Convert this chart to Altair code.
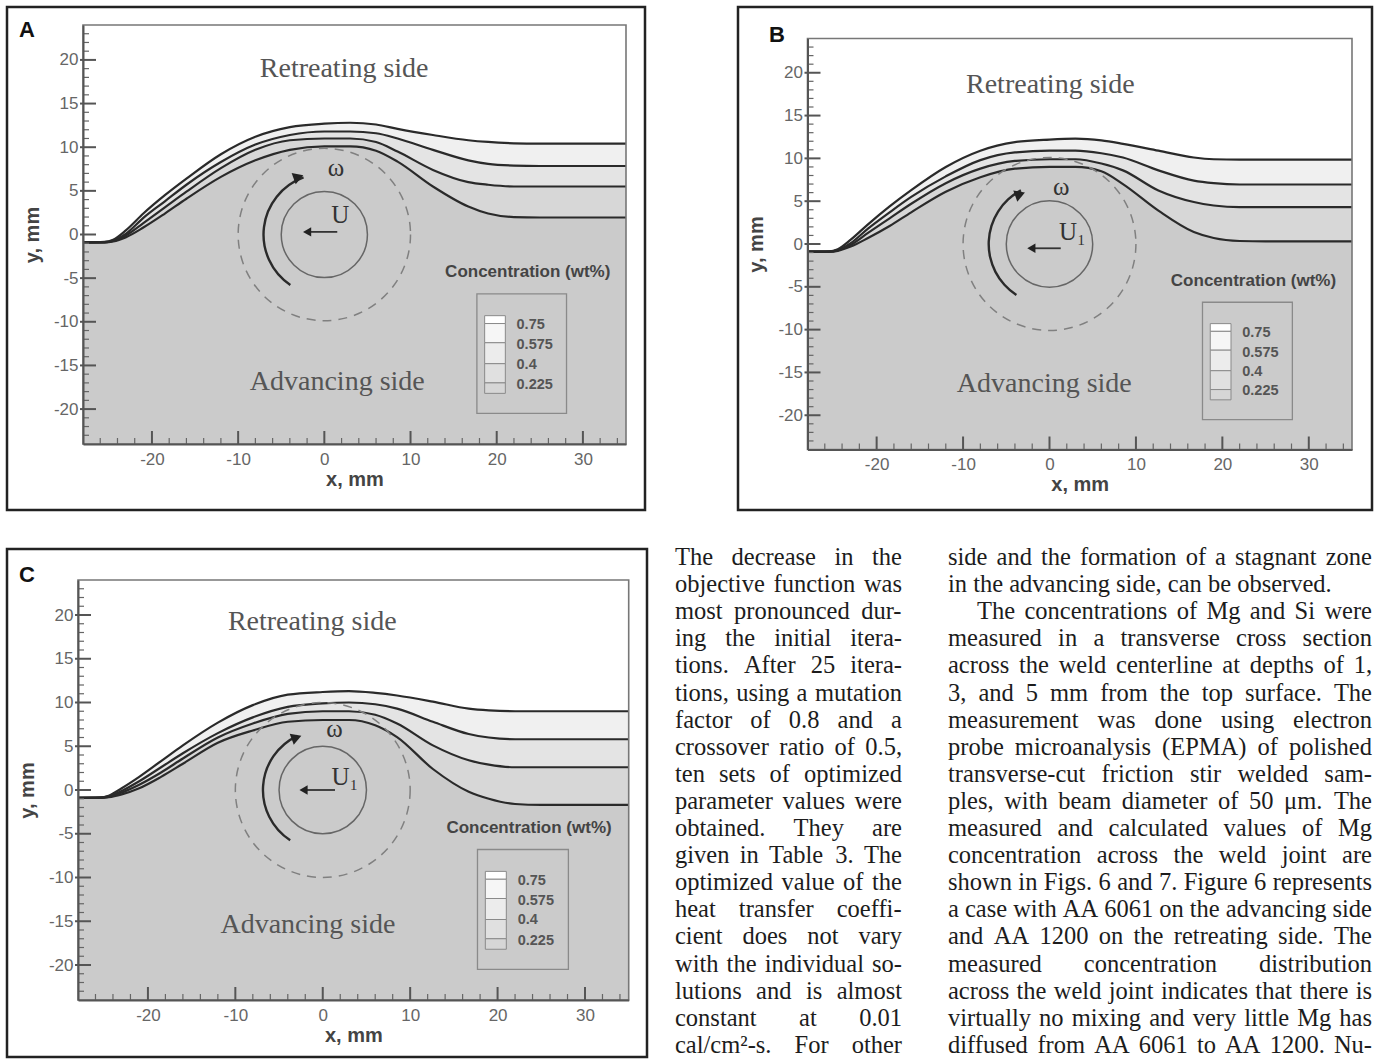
import altair as alt
import pandas as pd

# ---------------- data ----------------
X = [-28, -25.5, -24.5, -23, -21, -18.5, -16, -12, -8, -4, 0, 3, 6, 8.5, 12.6, 16.7, 19, 22, 25, 35]

A_L1 = [-0.9, -0.9, -0.8, -0.3, 0.8, 2.4, 4.1, 6.6, 8.5, 9.7, 10.1, 10.1, 9.6, 8.35, 5.5, 3.2, 2.4, 2.0, 1.95, 1.95]
A_L2 = [-0.9, -0.9, -0.75, -0.1, 1.3, 3.1, 4.9, 7.6, 9.7, 10.8, 11.0, 11.0, 10.6, 9.5, 7.4, 6.0, 5.7, 5.5, 5.5, 5.5]
A_L3 = [-0.9, -0.88, -0.7, 0.1, 1.9, 3.8, 5.7, 8.3, 10.3, 11.4, 11.8, 11.8, 11.6, 11.0, 9.7, 8.5, 8.1, 7.9, 7.85, 7.85]
A_L4 = [-0.9, -0.85, -0.6, 0.5, 2.4, 4.5, 6.4, 9.2, 11.2, 12.3, 12.7, 12.8, 12.6, 12.1, 11.4, 10.8, 10.6, 10.45, 10.4, 10.4]

B_L1 = [-0.9, -0.9, -0.8, -0.3, 0.7, 2.1, 3.7, 6.1, 7.8, 8.8, 9.0, 9.0, 8.5, 7.0, 3.9, 1.4, 0.7, 0.35, 0.3, 0.3]
B_L2 = [-0.9, -0.9, -0.75, -0.1, 1.3, 3.0, 4.7, 7.1, 8.8, 9.7, 9.9, 9.9, 9.4, 8.6, 6.25, 4.9, 4.5, 4.3, 4.3, 4.3]
B_L3 = [-0.9, -0.88, -0.7, 0.1, 1.8, 3.7, 5.5, 7.9, 9.8, 10.7, 10.9, 10.9, 10.6, 10.1, 8.6, 7.4, 7.1, 6.95, 6.95, 6.95]
B_L4 = [-0.9, -0.85, -0.6, 0.5, 2.3, 4.4, 6.3, 9.0, 10.9, 11.9, 12.2, 12.3, 12.1, 11.7, 10.9, 10.1, 9.9, 9.85, 9.85, 9.85]

C_L1 = [-0.9, -0.9, -0.83, -0.5, 0.2, 1.5, 3.0, 5.4, 6.8, 7.8, 8.0, 8.0, 7.4, 6.05, 2.4, -0.2, -1.0, -1.6, -1.7, -1.7]
C_L2 = [-0.9, -0.9, -0.78, -0.3, 0.6, 2.0, 3.6, 6.0, 7.6, 8.7, 9.0, 9.0, 8.6, 7.6, 5.1, 3.4, 2.9, 2.6, 2.6, 2.6]
C_L3 = [-0.9, -0.88, -0.72, -0.1, 1.0, 2.6, 4.2, 6.5, 8.3, 9.5, 9.9, 10.0, 9.8, 9.3, 7.8, 6.4, 6.0, 5.8, 5.8, 5.8]
C_L4 = [-0.9, -0.85, -0.65, 0.2, 1.5, 3.3, 5.1, 7.7, 9.7, 10.9, 11.2, 11.3, 11.1, 10.8, 10.1, 9.3, 9.1, 9.0, 9.0, 9.0]

X_DOMAIN = [-28, 35]
Y_DOMAIN = [-24, 24]
X_LABELS = [-20, -10, 0, 10, 20, 30]
Y_LABELS = [-20, -15, -10, -5, 0, 5, 10, 15, 20]
X_MINOR = [v for v in range(-26, 35, 2) if v % 10 != 0]
Y_MINOR = [v for v in range(-23, 24) if v % 5 != 0]

LEGEND_LABELS = ["0.75", "0.575", "0.4", "0.225"]
LEGEND_LABEL_Y = [-10.4, -12.7, -14.9, -17.2]
SWATCH_TOP = [-9.3, -10.2, -12.4, -14.8, -17.0]
SWATCH_BOT = [-10.2, -12.4, -14.8, -17.0, -18.2]
SWATCH_FILL = ["#ffffff", "#f6f6f6", "#ececec", "#e0e0e0", "#d6d6d6"]
SWATCH_X = [18.6, 21.0]
LEG_BOX = [17.7, 28.1, -6.8, -20.5]
LEG_LABEL_X = 22.3
CONC_TITLE = (23.6, -4.3)

PIN_R = 5
SHOULDER_R = 10

COL1 = ["The decrease in the", "objective function was", "most pronounced dur-",
        "ing the initial itera-", "tions. After 25 itera-", "tions, using a mutation",
        "factor of 0.8 and a", "crossover ratio of 0.5,", "ten sets of optimized",
        "parameter values were", "obtained. They are", "given in Table 3. The",
        "optimized value of the", "heat transfer coeffi-", "cient does not vary",
        "with the individual so-", "lutions and is almost", "constant at 0.01",
        "cal/cm²-s. For other"]
COL2 = ["side and the formation of a stagnant zone", "in the advancing side, can be observed.",
        "The concentrations of Mg and Si were", "measured in a transverse cross section",
        "across the weld centerline at depths of 1,", "3, and 5 mm from the top surface. The",
        "measurement was done using electron", "probe microanalysis (EPMA) of polished",
        "transverse-cut friction stir welded sam-", "ples, with beam diameter of 50 μm. The",
        "measured and calculated values of Mg", "concentration across the weld joint are",
        "shown in Figs. 6 and 7. Figure 6 represents", "a case with AA 6061 on the advancing side",
        "and AA 1200 on the retreating side. The", "measured concentration distribution",
        "across the weld joint indicates that there is", "virtually no mixing and very little Mg has",
        "diffused from AA 6061 to AA 1200. Nu-"]
COL2_RAGGED = {1}
COL2_INDENT = {2}

PANELS = [
    dict(letter="A", w=638, h=503, xr=[76, 619], yr=[437, 18], letter_px=(20, 23),
         L=[A_L1, A_L2, A_L3, A_L4], U="U", u_xy=(0.8, 2.2), u_arrow=(1.5, -2.0, 0.3),
         omega_xy=(0.4, 7.6), head_xy=(-3.0, 6.6), arc=(214, 340, 62),
         retreat=(2.3, 19.0), advance=(1.5, -16.9)),
    dict(letter="B", w=634, h=503, xr=[69.5, 614], yr=[442.5, 31.5], letter_px=(39, 28),
         L=[B_L1, B_L2, B_L3, B_L4], U="U₁", u_xy=(1.1, 1.4), u_arrow=(1.3, -2.1, -0.5),
         omega_xy=(0.4, 6.6), head_xy=(-3.4, 5.8), arc=(213, 332, 62),
         retreat=(0.1, 18.6), advance=(-0.6, -16.4)),
    dict(letter="C", w=640, h=508, xr=[71, 621.7], yr=[451, 31], letter_px=(20, 26),
         L=[C_L1, C_L2, C_L3, C_L4], U="U₁", u_xy=(1.0, 1.5), u_arrow=(1.4, -2.2, 0.0),
         omega_xy=(0.4, 7.0), head_xy=(-3.0, 6.0), arc=(213, 335, 61),
         retreat=(-1.2, 19.2), advance=(-1.7, -15.4)),
]

GRAY0 = "#cbcbcb"
BANDS = ["#d7d7d7", "#e4e4e4", "#f0f0f0"]
SANS = "Liberation Sans"
SERIF = "Liberation Serif"


def panel(P):
    xs = alt.Scale(domain=X_DOMAIN, range=P["xr"], nice=False, zero=False)
    ys = alt.Scale(domain=Y_DOMAIN, range=P["yr"], nice=False, zero=False)
    ppu = (P["xr"][1] - P["xr"][0]) / (X_DOMAIN[1] - X_DOMAIN[0])
    xaxis = alt.Axis(values=X_LABELS, labelExpr="datum.value + ''", title="x, mm",
                     offset=-(P["h"] - P["yr"][0]), tickSize=0, domainColor="#555",
                     domainWidth=2, labelColor="#666", labelFont=SANS, labelFontSize=17,
                     labelPadding=7, titleFont=SANS, titleFontSize=20, titleFontWeight="bold",
                     titleColor="#444", titlePadding=2, grid=False, zindex=1)
    yaxis = alt.Axis(values=Y_LABELS, labelExpr="datum.value + ''", title="y, mm",
                     offset=-P["xr"][0], tickSize=0, domainColor="#555", domainWidth=2,
                     labelColor="#666", labelFont=SANS, labelFontSize=17, labelPadding=5,
                     titleFont=SANS, titleFontSize=20, titleFontWeight="bold",
                     titleColor="#444", titlePadding=11, grid=False, zindex=1)

    def XF(f):
        return alt.X(f, type="quantitative", scale=xs, axis=xaxis)

    def YF(f):
        return alt.Y(f, type="quantitative", scale=ys, axis=yaxis)

    L1, L2, L3, L4 = P["L"]
    wide = pd.DataFrame({"x": X, "L1": L1, "L2": L2, "L3": L3, "L4": L4})
    layers = []
    layers.append(alt.Chart(wide).mark_area(color=GRAY0, interpolate="monotone")
                  .encode(x=XF("x"), y=YF("L1"), y2=alt.Y2Datum(Y_DOMAIN[0])))
    for lo, hi, col in [("L1", "L2", BANDS[0]), ("L2", "L3", BANDS[1]), ("L3", "L4", BANDS[2])]:
        layers.append(alt.Chart(wide).mark_area(color=col, interpolate="monotone")
                      .encode(x=XF("x"), y=YF(hi), y2=alt.Y2(lo)))
    layers.append(alt.Chart(wide).transform_fold(["L1", "L2", "L3", "L4"], as_=["level", "yv"])
                  .mark_line(color="#2a2a2a", strokeWidth=2.2, interpolate="monotone")
                  .encode(x=XF("x"), y=YF("yv"), detail="level:N"))

    center = pd.DataFrame({"x": [0.0], "y": [0.0]})
    layers.append(alt.Chart(center).mark_point(shape="circle", filled=False, opacity=1,
                                               size=(2 * PIN_R * ppu) ** 2, stroke="#666",
                                               strokeWidth=1.5)
                  .encode(x=XF("x"), y=YF("y")))
    layers.append(alt.Chart(center).mark_point(shape="circle", filled=False, opacity=1,
                                               size=(2 * SHOULDER_R * ppu) ** 2, stroke="#808080",
                                               strokeWidth=1.5, strokeDash=[9, 7])
                  .encode(x=XF("x"), y=YF("y")))
    a0, a1, ar = P["arc"]
    layers.append(alt.Chart(center).mark_arc(theta=a0 * 3.14159265 / 180, theta2=a1 * 3.14159265 / 180,
                                             radius=ar, radius2=ar - 2.4, color="#2a2a2a")
                  .encode(x=XF("x"), y=YF("y")))
    head = pd.DataFrame({"x": [P["head_xy"][0]], "y": [P["head_xy"][1]]})
    layers.append(alt.Chart(head).mark_point(shape="triangle-right", filled=True, opacity=1,
                                             size=140, angle=340, color="#222")
                  .encode(x=XF("x"), y=YF("y")))
    ux1, ux2, uy = P["u_arrow"]
    uarr = pd.DataFrame({"x": [ux1, ux2], "y": [uy, uy]})
    layers.append(alt.Chart(uarr).mark_line(color="#333", strokeWidth=1.8)
                  .encode(x=XF("x"), y=YF("y")))
    uhead = pd.DataFrame({"x": [ux2], "y": [uy]})
    layers.append(alt.Chart(uhead).mark_point(shape="triangle-left", filled=True, opacity=1,
                                              size=90, color="#222")
                  .encode(x=XF("x"), y=YF("y")))

    labels = pd.DataFrame({
        "x": [P["u_xy"][0], P["omega_xy"][0]],
        "y": [P["u_xy"][1], P["omega_xy"][1]],
        "t": [P["U"], "ω"],
    })
    layers.append(alt.Chart(labels).mark_text(font=SERIF, fontSize=25, color="#333",
                                              align="left", baseline="middle")
                  .encode(x=XF("x"), y=YF("y"), text="t:N"))
    sides = pd.DataFrame({
        "x": [P["retreat"][0], P["advance"][0]],
        "y": [P["retreat"][1], P["advance"][1]],
        "t": ["Retreating side", "Advancing side"],
    })
    layers.append(alt.Chart(sides).mark_text(font=SERIF, fontSize=28, color="#555",
                                             align="center", baseline="middle")
                  .encode(x=XF("x"), y=YF("y"), text="t:N"))

    # legend
    ctitle = pd.DataFrame({"x": [CONC_TITLE[0]], "y": [CONC_TITLE[1]], "t": ["Concentration (wt%)"]})
    layers.append(alt.Chart(ctitle).mark_text(font=SANS, fontSize=17, fontWeight="bold",
                                              color="#444", align="center", baseline="middle")
                  .encode(x=XF("x"), y=YF("y"), text="t:N"))
    box = pd.DataFrame({"x": [LEG_BOX[0]], "x2": [LEG_BOX[1]], "y": [LEG_BOX[2]], "y2": [LEG_BOX[3]]})
    layers.append(alt.Chart(box).mark_rect(fillOpacity=0, stroke="#8a8a8a", strokeWidth=1.3)
                  .encode(x=XF("x"), x2="x2", y=YF("y"), y2="y2"))
    sw = pd.DataFrame({"x": [SWATCH_X[0]] * 5, "x2": [SWATCH_X[1]] * 5,
                       "y": SWATCH_TOP, "y2": SWATCH_BOT, "c": SWATCH_FILL})
    layers.append(alt.Chart(sw).mark_rect(stroke="#8a8a8a", strokeWidth=1)
                  .encode(x=XF("x"), x2="x2", y=YF("y"), y2="y2",
                          fill=alt.Fill("c:N", scale=None)))
    lab = pd.DataFrame({"x": [LEG_LABEL_X] * 4, "y": LEGEND_LABEL_Y, "t": LEGEND_LABELS})
    layers.append(alt.Chart(lab).mark_text(font=SANS, fontSize=14.5, fontWeight="bold",
                                           color="#555", align="left", baseline="middle")
                  .encode(x=XF("x"), y=YF("y"), text="t:N"))

    # plot box
    frame = pd.DataFrame({"x": [X_DOMAIN[0]], "x2": [X_DOMAIN[1]], "y": [Y_DOMAIN[0]], "y2": [Y_DOMAIN[1]]})
    layers.append(alt.Chart(frame).mark_rect(fillOpacity=0, stroke="#777", strokeWidth=1.6)
                  .encode(x=XF("x"), x2="x2", y=YF("y"), y2="y2"))

    # inward ticks
    yb = P["yr"][0]
    xl = P["xr"][0]
    layers.append(alt.Chart(pd.DataFrame({"t": X_LABELS})).mark_rule(color="#555", strokeWidth=2)
                  .encode(x=XF("t"), y=alt.value(yb), y2=alt.value(yb - 13)))
    layers.append(alt.Chart(pd.DataFrame({"t": X_MINOR})).mark_rule(color="#666", strokeWidth=1.2)
                  .encode(x=XF("t"), y=alt.value(yb), y2=alt.value(yb - 6)))
    layers.append(alt.Chart(pd.DataFrame({"t": Y_LABELS})).mark_rule(color="#555", strokeWidth=2)
                  .encode(y=YF("t"), x=alt.value(xl - 3), x2=alt.value(xl + 13)))
    layers.append(alt.Chart(pd.DataFrame({"t": Y_MINOR})).mark_rule(color="#666", strokeWidth=1.2)
                  .encode(y=YF("t"), x=alt.value(xl), x2=alt.value(xl + 6)))

    one = pd.DataFrame({"t": [P["letter"]]})
    layers.append(alt.Chart(one).mark_text(font=SANS, fontSize=22, fontWeight="bold",
                                           color="#111", align="center", baseline="middle")
                  .encode(x=alt.value(P["letter_px"][0]), y=alt.value(P["letter_px"][1]), text="t:N"))

    return alt.layer(*layers).properties(width=P["w"], height=P["h"])


# ---------------- text columns ----------------
WIDTHS = {' ': 250, '!': 333, '(': 333, ')': 333, ',': 250, '-': 333, '.': 250, '/': 278, ':': 278,
          'A': 722, 'B': 667, 'C': 667, 'D': 722, 'E': 611, 'F': 556, 'G': 722, 'H': 722, 'I': 333,
          'J': 389, 'K': 722, 'L': 611, 'M': 889, 'N': 722, 'O': 722, 'P': 556, 'Q': 722, 'R': 667,
          'S': 556, 'T': 611, 'U': 722, 'V': 722, 'W': 944, 'X': 722, 'Y': 722, 'Z': 611,
          'a': 444, 'b': 500, 'c': 444, 'd': 500, 'e': 444, 'f': 333, 'g': 500, 'h': 500, 'i': 278,
          'j': 278, 'k': 500, 'l': 278, 'm': 778, 'n': 500, 'o': 500, 'p': 500, 'q': 500, 'r': 333,
          's': 389, 't': 278, 'u': 500, 'v': 500, 'w': 722, 'x': 500, 'y': 500, 'z': 444,
          '²': 300, 'μ': 576}
FS = 24.5
TEXT_W = 634          # same width as panel B (shares its column)
TEXT_H = 508
COL_LEFT = [-63, 210]  # relative to the left edge of the second grid column
COL_WIDTH = [227, 424]
LINE_TOP = 16
LINE_PITCH = 27.1


def word_w(w):
    return sum(WIDTHS.get(c, 500) for c in w) * FS / 1000.0


rows = []
for ci, lines in enumerate([COL1, COL2]):
    for li, line in enumerate(lines):
        words = line.split(" ")
        indent = 29 if (ci == 1 and li in COL2_INDENT) else 0
        avail = COL_WIDTH[ci] - indent
        natural = sum(word_w(w) for w in words)
        if (ci == 1 and li in COL2_RAGGED) or len(words) == 1:
            gap = 0.25 * FS
        else:
            gap = max((avail - natural) / (len(words) - 1), 0.12 * FS)
        pos = COL_LEFT[ci] + indent
        for w in words:
            rows.append({"px": pos, "line": li, "word": w})
            pos += word_w(w) + gap
text_df = pd.DataFrame(rows)

text_chart = alt.Chart(text_df).mark_text(
    font=SERIF, fontSize=FS, color="#1c1c1c", align="left", baseline="alphabetic"
).encode(
    x=alt.X("px:Q", scale=alt.Scale(domain=[-100, TEXT_W], range=[-100, TEXT_W], nice=False, zero=False), axis=None),
    y=alt.Y("line:Q", scale=alt.Scale(domain=[0, 18], range=[LINE_TOP, LINE_TOP + 18 * LINE_PITCH],
                                      nice=False, zero=False), axis=None),
    text="word:N",
).properties(width=TEXT_W, height=TEXT_H, view=alt.ViewBackground(stroke="transparent"))

pA, pB, pC = [panel(P) for P in PANELS]
chart = alt.concat(
    pA, pB, pC, text_chart,
    columns=2,
    spacing=alt.RowColnumber(row=39, column=91),
    bounds="flush",
).properties(
    padding={"left": 5, "top": 5, "right": 0, "bottom": 0},
    background="white",
).configure_view(stroke="#222", strokeWidth=2.5)

chart.save("out.html", embed_options={"renderer": "svg", "actions": False})
